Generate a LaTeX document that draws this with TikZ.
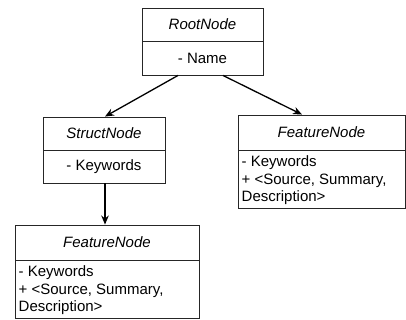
\documentclass[tikz,border=0pt]{standalone}
\usepackage{fontspec}
\setmainfont{Liberation Sans}
\usetikzlibrary{arrows.meta}
\begin{document}
\begin{tikzpicture}[x=1pt,y=-1pt,
  comp/.style={draw=black!85, line width=0.9pt, inner sep=0pt, font=\fontsize{15}{18}\selectfont},
  ttl/.style={comp, font=\fontsize{15}{18}\selectfont\itshape},
  bodytext/.style={anchor=west, align=left, inner sep=0pt, font=\fontsize{15}{17.5}\selectfont},
  conn/.style={line width=1.3pt, -{Stealth[length=9pt,width=7.5pt]}}]
\useasboundingbox (0,0) rectangle (406,320);
% RootNode
\node[ttl, minimum width=121pt, minimum height=33pt] (roott) at (202.5,24.5) {RootNode};
\node[comp, minimum width=121pt, minimum height=34pt] (rootb) at (202.5,58) {- Name};
% StructNode
\node[ttl, minimum width=122pt, minimum height=33pt] (structt) at (104,133.5) {StructNode};
\node[comp, minimum width=122pt, minimum height=33pt] (structb) at (104,166.5) {- Keywords};
% Right FeatureNode
\node[ttl, minimum width=167pt, minimum height=35pt] (featrt) at (321.5,132.5) {FeatureNode};
\node[comp, minimum width=167pt, minimum height=58pt] (featrb) at (321.5,179) {};
\node[bodytext] (featrtxt) at (241.5,180.5) {- Keywords\\+ <Source, Summary,\\Description>};
% Bottom FeatureNode
\node[ttl, minimum width=184pt, minimum height=35pt] (featbt) at (107,242.5) {FeatureNode};
\node[comp, minimum width=184pt, minimum height=58pt] (featbb) at (107,289) {};
\node[bodytext] (featbtxt) at (18.5,290.5) {- Keywords\\+ <Source, Summary,\\Description>};
% connectors
\draw[conn] ([xshift=-24.5pt]rootb.south) -- ([xshift=1pt]structt.north);
\draw[conn] ([xshift=20.5pt]rootb.south) -- ([xshift=-19.5pt]featrt.north);
\draw[conn] ([xshift=1pt]structb.south) -- ([xshift=-2pt]featbt.north);
\end{tikzpicture}
\end{document}
